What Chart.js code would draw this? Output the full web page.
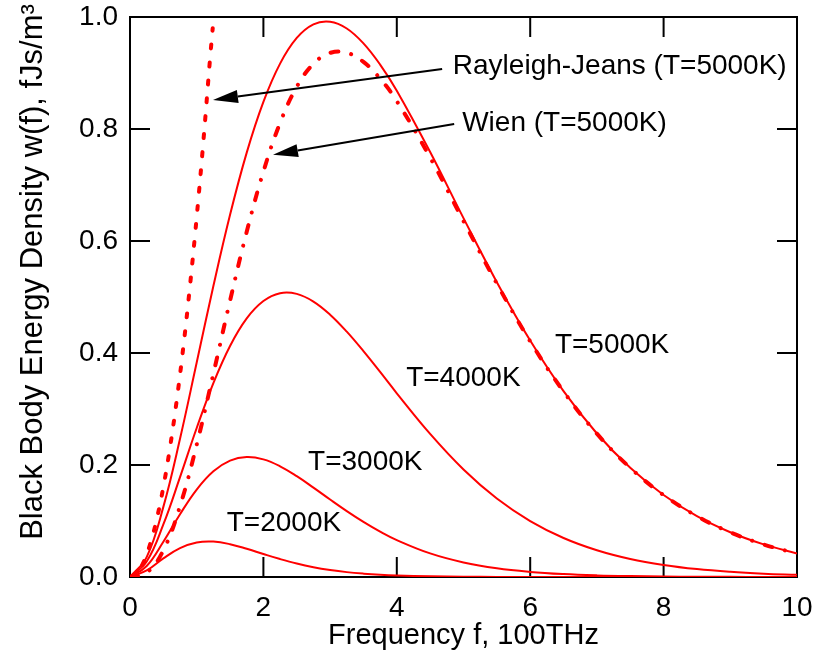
<!DOCTYPE html>
<html>
<head>
<meta charset="utf-8">
<script src="https://cdn.jsdelivr.net/npm/chart.js@4.4.1/dist/chart.umd.min.js"></script>
<style>
  html, body { margin: 0; padding: 0; background: #fff; }
  canvas { display: block; }
</style>
</head>
<body>
<canvas id="bbChart" width="813" height="657"></canvas>
<script>
// frequency in 100THz, energy density in fJs/m^3
const freq = [0, 0.25, 0.5, 0.75, 1, 1.25, 1.5, 1.75, 2, 2.25, 2.5, 2.75, 3, 3.25, 3.5, 3.75, 4,
              4.5, 5, 5.5, 6, 6.5, 7, 7.5, 8, 8.5, 9, 9.5, 10];
const w5000 = [0, 0.0356, 0.1252, 0.2469, 0.3829, 0.5196, 0.6468, 0.7578, 0.8484, 0.9167, 0.9626, 0.9869, 0.9916, 0.9795, 0.9529, 0.9150, 0.8685,
               0.7590, 0.6409, 0.5265, 0.4222, 0.3318, 0.2563, 0.1950, 0.1465, 0.1087, 0.0799, 0.0582, 0.0420];
const w4000 = [0, 0.0276, 0.0938, 0.1784, 0.2660, 0.3463, 0.4126, 0.4618, 0.4928, 0.5068, 0.5056, 0.4919, 0.4685, 0.4381, 0.4033, 0.3661, 0.3281,
               0.2556, 0.1921, 0.1402, 0.0999, 0.0697, 0.0478, 0.0322, 0.0215, 0.0141, 0.0092, 0.0059, 0.0038];
const w3000 = [0, 0.0196, 0.0630, 0.1122, 0.1562, 0.1888, 0.2079, 0.2143, 0.2100, 0.1977, 0.1801, 0.1597, 0.1384, 0.1177, 0.0984, 0.0810, 0.0659,
               0.0421, 0.0260, 0.0155, 0.0091, 0.0052, 0.0029, 0.0016, 0.0009, 0.0005, 0.0003, 0.0001, 0.0001];
const w2000 = [0, 0.0117, 0.0333, 0.0516, 0.0616, 0.0632, 0.0586, 0.0504, 0.0410, 0.0320, 0.0240, 0.0175, 0.0125, 0.0087, 0.0060, 0.0040, 0.0027,
               0.0012, 0.0005, 0.0002, 0.0001, 0, 0, 0, 0, 0, 0, 0, 0];
const wien5000 = [0, 0.0076, 0.0477, 0.1267, 0.2363, 0.3630, 0.4935, 0.6165, 0.7239, 0.8109, 0.8752, 0.9164, 0.9359, 0.9362, 0.9198, 0.8900, 0.8498,
                  0.7489, 0.6356, 0.5238, 0.4208, 0.3312, 0.2560, 0.1949, 0.1464, 0.1087, 0.0798, 0.0581, 0.0419];
const rjFreq = [0, 0.1, 0.2, 0.3, 0.4, 0.5, 0.6, 0.7, 0.8, 0.9, 1.0, 1.1, 1.2, 1.24];
const rj5000 = [0, 0.0064, 0.0257, 0.0579, 0.1028, 0.1607, 0.2314, 0.3150, 0.4114, 0.5207, 0.6428, 0.7778, 0.9256, 0.98];

const xTicks = [0, 2, 4, 6, 8, 10];
const yTicks = [0, 0.2, 0.4, 0.6, 0.8, 1.0];
const yTitle = 'Black Body Energy Density w(f), fJs/m³';

// text notes and arrows, in data coordinates
const curveNotes = [
    { text: 'T=5000K', x: 6.37, y: 0.414 },
    { text: 'T=4000K', x: 4.14, y: 0.354 },
    { text: 'T=3000K', x: 2.67, y: 0.205 },
    { text: 'T=2000K', x: 1.45, y: 0.096 },
    { text: 'Rayleigh-Jeans (T=5000K)', x: 4.84, y: 0.912 },
    { text: 'Wien (T=5000K)', x: 4.98, y: 0.811 }
];
const arrowNotes = [
    { x0: 4.68, y0: 0.907, x1: 1.244, y1: 0.852 },
    { x0: 4.86, y0: 0.809, x1: 2.144, y1: 0.754 }
];

const RED = '#ff0000';
const FONT = "'Liberation Sans', Arial, sans-serif";
Chart.defaults.font.family = FONT;
Chart.defaults.color = '#000';

function pts(xs, ys) { return xs.map((x, i) => ({ x: x, y: ys[i] })); }

function solid(data) {
    return { data: data, borderColor: RED, borderWidth: 2, pointRadius: 0, tension: 0.4, fill: false };
}

const framePlugin = {
    id: 'frame',
    beforeDatasetsDraw(chart) {
        const { ctx, chartArea: a, scales: { x, y } } = chart;
        ctx.save();
        ctx.strokeStyle = '#000';
        ctx.lineWidth = 2;
        ctx.strokeRect(a.left, a.top, a.right - a.left, a.bottom - a.top);
        ctx.beginPath();
        xTicks.forEach(v => {
            const px = x.getPixelForValue(v);
            ctx.moveTo(px, a.bottom); ctx.lineTo(px, a.bottom - 20);
            ctx.moveTo(px, a.top); ctx.lineTo(px, a.top + 20);
        });
        yTicks.forEach(v => {
            const py = y.getPixelForValue(v);
            ctx.moveTo(a.left, py); ctx.lineTo(a.left + 20, py);
            ctx.moveTo(a.right, py); ctx.lineTo(a.right - 20, py);
        });
        ctx.stroke();

        // y axis title, sits a little above the middle as in the original
        ctx.save();
        ctx.translate(33, 272);
        ctx.rotate(-Math.PI / 2);
        ctx.font = '31px ' + FONT;
        ctx.fillStyle = '#000';
        ctx.textAlign = 'center';
        ctx.textBaseline = 'middle';
        ctx.fillText(yTitle, 0, 0);
        ctx.restore();
        ctx.restore();
    },
    afterDraw(chart) {
        const { ctx, scales: { x, y } } = chart;
        ctx.save();
        ctx.strokeStyle = '#000';
        ctx.fillStyle = '#000';
        ctx.lineWidth = 2;
        arrowNotes.forEach(n => {
            const x0 = x.getPixelForValue(n.x0), y0 = y.getPixelForValue(n.y0);
            const x1 = x.getPixelForValue(n.x1), y1 = y.getPixelForValue(n.y1);
            const ang = Math.atan2(y1 - y0, x1 - x0);
            const len = 25, half = 6.5;
            const bx = x1 - len * Math.cos(ang), by = y1 - len * Math.sin(ang);
            ctx.beginPath();
            ctx.moveTo(x0, y0); ctx.lineTo(bx, by);
            ctx.stroke();
            ctx.beginPath();
            ctx.moveTo(x1, y1);
            ctx.lineTo(bx + half * Math.sin(ang), by - half * Math.cos(ang));
            ctx.lineTo(bx - half * Math.sin(ang), by + half * Math.cos(ang));
            ctx.closePath();
            ctx.fill();
        });
        ctx.font = '28px ' + FONT;
        ctx.textAlign = 'left';
        ctx.textBaseline = 'middle';
        curveNotes.forEach(n => {
            ctx.fillText(n.text, x.getPixelForValue(n.x), y.getPixelForValue(n.y));
        });
        ctx.restore();
    }
};

new Chart(document.getElementById('bbChart').getContext('2d'), {
    type: 'line',
    data: {
        datasets: [
            solid(pts(freq, w5000)),
            solid(pts(freq, w4000)),
            solid(pts(freq, w3000)),
            solid(pts(freq, w2000)),
            {
                data: pts(freq, wien5000), borderColor: RED, borderWidth: 4, pointRadius: 0,
                tension: 0.4, borderDash: [8, 13, 0.01, 13], borderCapStyle: 'round', fill: false
            },
            {
                data: pts(rjFreq, rj5000), borderColor: RED, borderWidth: 4, pointRadius: 0,
                tension: 0.4, borderDash: [4, 14], borderCapStyle: 'round', fill: false
            }
        ]
    },
    options: {
        responsive: false,
        animation: false,
        layout: { padding: { top: 17, right: 16, left: 0, bottom: 0 } },
        plugins: { legend: { display: false }, tooltip: { enabled: false } },
        scales: {
            x: {
                type: 'linear', min: 0, max: 10,
                afterBuildTicks: s => { s.ticks = xTicks.map(v => ({ value: v })); },
                afterFit: s => { s.height = 80; s.paddingLeft = 0; s.paddingRight = 0; },
                ticks: { font: { size: 28 }, color: '#000', padding: 14, maxRotation: 0, callback: v => String(v) },
                grid: { display: false, drawTicks: false },
                border: { display: false },
                title: { display: true, text: 'Frequency f, 100THz', font: { size: 29 }, color: '#000', padding: { bottom: 4 } }
            },
            y: {
                type: 'linear', min: 0, max: 1.0,
                afterBuildTicks: s => { s.ticks = yTicks.map(v => ({ value: v })); },
                afterFit: s => { s.width = 130; s.paddingTop = 0; s.paddingBottom = 0; },
                ticks: { font: { size: 28 }, color: '#000', padding: 12, callback: v => v.toFixed(1) },
                grid: { display: false, drawTicks: false },
                border: { display: false }
            }
        }
    },
    plugins: [framePlugin]
});
</script>
</body>
</html>
